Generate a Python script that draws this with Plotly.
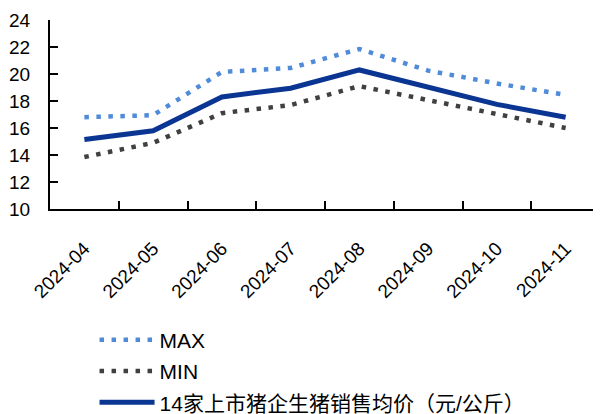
import plotly.graph_objects as go

months = ["2024-04", "2024-05", "2024-06", "2024-07", "2024-08", "2024-09", "2024-10", "2024-11"]
max_vals = [16.8, 16.95, 20.15, 20.45, 21.85, 20.25, 19.3, 18.45]
min_vals = [13.85, 14.9, 17.1, 17.7, 19.1, 18.05, 17.0, 16.0]
avg_vals = [15.15, 15.8, 18.3, 18.95, 20.3, 19.0, 17.75, 16.8]

names = ["MAX", "MIN", "14家上市猪企生猪销售均价（元/公斤）"]

fig = go.Figure()
fig.add_trace(go.Scatter(x=months, y=max_vals, name=names[0], mode="lines",
                         line=dict(color="#4F8BD8", width=4.5, dash="4.5px,7.5px"),
                         legendgroup="a"))
fig.add_trace(go.Scatter(x=months, y=min_vals, name=names[1], mode="lines",
                         line=dict(color="#404040", width=4.5, dash="4.5px,7.5px"),
                         legendgroup="b"))
fig.add_trace(go.Scatter(x=months, y=avg_vals, name=names[2], mode="lines",
                         line=dict(color="#0B3592", width=5),
                         legendgroup="c"))

# page body has an 8px default margin, so the figure is sized to the visible area
fig.update_layout(
    width=593, height=406,
    margin=dict(l=42, r=1, t=12, b=205, autoexpand=False),
    paper_bgcolor="white", plot_bgcolor="white",
    font=dict(family="Liberation Sans, Arial, sans-serif", size=16, color="black"),
    showlegend=True,
    legend=dict(x=0.081, y=-0.585, xanchor="left", yanchor="top",
                orientation="v", tracegroupgap=1, itemwidth=55,
                font=dict(family="Liberation Sans, Noto Sans CJK SC, sans-serif", size=21),
                bgcolor="rgba(0,0,0,0)"),
)
fig.update_xaxes(
    type="category", range=[-0.5, 7.5], showline=True, linecolor="black", linewidth=2,
    ticks="inside", ticklen=8, tickcolor="black", tickwidth=1.5,
    tickson="boundaries", tickangle=-45, showgrid=False, zeroline=False,
    tickfont=dict(size=19), ticklabelstandoff=19, automargin=False,
)
fig.update_yaxes(
    range=[10, 24], dtick=2, tick0=10, showline=True, linecolor="black", linewidth=2,
    ticks="inside", ticklen=8, tickcolor="black", tickwidth=1.5,
    showgrid=False, zeroline=False, tickfont=dict(size=19), ticklabelstandoff=14,
    automargin=False,
)
fig.write_html("out.html")
